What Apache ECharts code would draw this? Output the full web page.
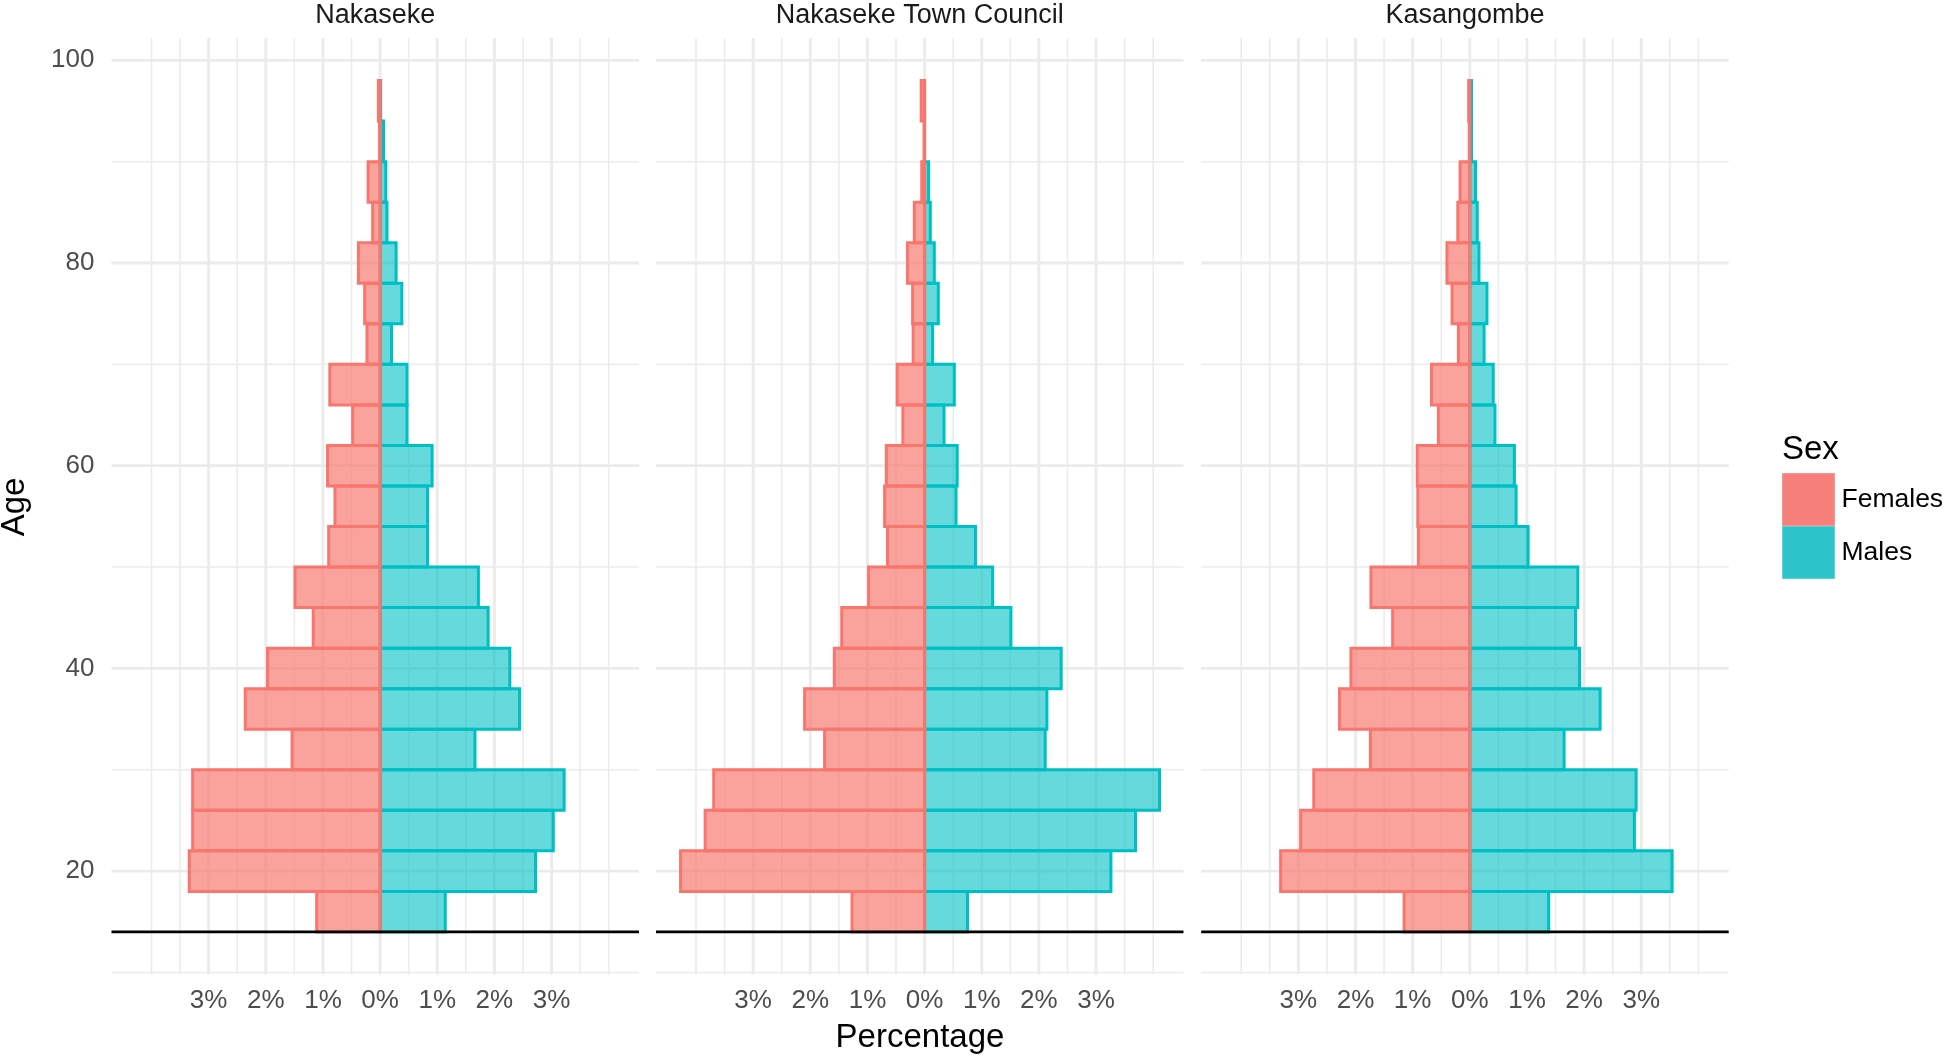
<!DOCTYPE html>
<html><head><meta charset="utf-8">
<script src="https://cdn.jsdelivr.net/npm/echarts@6/dist/echarts.min.js"></script>
<style>html,body{margin:0;padding:0;background:#fff}#c{width:1946px;height:1060px}</style>
</head><body><div id="c"></div>
<script>
// ---- data ----
const ageStarts = [14,18,22,26,30,34,38,42,46,50,54,58,62,66,70,74,78,82,86,90,94];
const binWidth = 4;
const panelNames = ['Nakaseke', 'Nakaseke Town Council', 'Kasangombe'];
// percentages (females shown on the left)
const femalesNakaseke = [1.11,3.34,3.28,3.28,1.54,2.36,1.97,1.17,1.49,0.90,0.79,0.92,0.48,0.88,0.23,0.27,0.38,0.13,0.21,0.01,0.03];
const malesNakaseke   = [1.14,2.72,3.03,3.22,1.66,2.44,2.27,1.89,1.72,0.83,0.83,0.91,0.47,0.47,0.20,0.38,0.28,0.12,0.10,0.06,0.01];
const femalesTownCouncil = [1.27,4.27,3.84,3.69,1.75,2.10,1.58,1.45,0.98,0.65,0.70,0.67,0.38,0.48,0.20,0.21,0.30,0.18,0.05,0.01,0.06];
const malesTownCouncil   = [0.75,3.26,3.69,4.11,2.11,2.14,2.39,1.51,1.19,0.89,0.55,0.57,0.34,0.52,0.14,0.24,0.17,0.10,0.07,0.00,0.00];
const femalesKasangombe = [1.15,3.31,2.96,2.73,1.74,2.28,2.08,1.35,1.73,0.90,0.91,0.92,0.55,0.67,0.20,0.31,0.40,0.21,0.17,0.01,0.02];
const malesKasangombe   = [1.38,3.54,2.88,2.91,1.65,2.28,1.92,1.85,1.89,1.02,0.81,0.78,0.44,0.41,0.25,0.30,0.16,0.13,0.10,0.03,0.03];
const femalesByPanel = [femalesNakaseke, femalesTownCouncil, femalesKasangombe];
const malesByPanel = [malesNakaseke, malesTownCouncil, malesKasangombe];
// ticks
const xMajorTicks = [-3,-2,-1,0,1,2,3];
const xMinorTicks = [-4,-3.5,-2.5,-1.5,-0.5,0.5,1.5,2.5,3.5,4];
const yMajorTicks = [20,40,60,80,100];
const yMinorTicks = [10,30,50,70,90];
const baselineAge = 14;
const xRange = [-4.70, 4.53];
const yRange = [9.8, 102.2];

// ---- styles ----
const FONT = 'Liberation Sans, Arial, Helvetica, sans-serif';
const femaleStroke = '#F8766D', maleStroke = '#00BFC4';
const femaleFill = 'rgba(248,118,109,0.68)', maleFill = 'rgba(0,191,196,0.6)';
const gridColor = '#EBEBEB';
const gridLefts = [111.5, 656, 1201.2];
const gridTop = 38, gridW = 527.5, gridH = 936.5;

const chart = echarts.init(document.getElementById('c'), null, {renderer: 'canvas'});

const grids = [], xAxes = [], yAxes = [], series = [], graphics = [];

// gridline items: [value, kind] kind: 0 vert minor,1 vert major,2 horiz minor,3 horiz major
const gridItems = []
  .concat(xMinorTicks.map(v => [v, 0]))
  .concat(xMajorTicks.map(v => [v, 1]))
  .concat(yMinorTicks.map(v => [v, 2]))
  .concat(yMajorTicks.map(v => [v, 3]));

function gridRender(params, api) {
  const v = api.value(0), kind = api.value(1);
  const cs = params.coordSys;
  const lw = (kind === 1 || kind === 3) ? 2.8 : 1.5;
  let shape;
  if (kind < 2) {
    const x = api.coord([v, 50])[0];
    shape = {x1: x, y1: cs.y, x2: x, y2: cs.y + cs.height};
  } else {
    const y = api.coord([0, v])[1];
    shape = {x1: cs.x, y1: y, x2: cs.x + cs.width, y2: y};
  }
  return {type: 'line', shape, style: {stroke: gridColor, lineWidth: lw}, silent: true};
}

function barRender(sign, stroke, fill) {
  return function (params, api) {
    const age = api.value(0), v = api.value(1);
    const p0 = api.coord([0, age]);
    const p1 = api.coord([sign * v, age + binWidth]);
    return {
      type: 'rect',
      shape: {x: Math.min(p0[0], p1[0]), y: Math.min(p0[1], p1[1]),
              width: Math.abs(p1[0] - p0[0]), height: Math.abs(p1[1] - p0[1])},
      style: {fill: fill, stroke: stroke, lineWidth: 3}
    };
  };
}

function baselineRender(params, api) {
  const cs = params.coordSys;
  const y = api.coord([0, api.value(1)])[1];
  return {type: 'line', shape: {x1: cs.x, y1: y, x2: cs.x + cs.width, y2: y},
          style: {stroke: '#000', lineWidth: 2.8}, silent: true};
}

panelNames.forEach((name, i) => {
  grids.push({left: gridLefts[i], top: gridTop, width: gridW, height: gridH,
              containLabel: false, outerBoundsMode: 'none'});
  xAxes.push({
    type: 'value', gridIndex: i, min: xRange[0], max: xRange[1],
    splitLine: {show: false}, axisLine: {show: false}, axisTick: {show: false},
    axisLabel: {customValues: xMajorTicks, formatter: v => Math.abs(v) + '%',
                color: '#4D4D4D', fontSize: 26, fontFamily: FONT, margin: 13}
  });
  yAxes.push({
    type: 'value', gridIndex: i, min: yRange[0], max: yRange[1],
    splitLine: {show: false}, axisLine: {show: false}, axisTick: {show: false},
    axisLabel: {show: i === 0, customValues: yMajorTicks, color: '#4D4D4D',
                fontSize: 26, fontFamily: FONT, margin: 17}
  });
  series.push({
    type: 'custom', xAxisIndex: i, yAxisIndex: i, z: 1, silent: true,
    data: gridItems, renderItem: gridRender, encode: {x: 0, y: 1}
  });
  series.push({
    type: 'custom', name: 'Males', xAxisIndex: i, yAxisIndex: i, z: 2,
    itemStyle: {color: '#2CC4C8'},
    data: ageStarts.map((a, k) => [a, malesByPanel[i][k]]),
    renderItem: barRender(1, maleStroke, maleFill), encode: {x: 1, y: 0}
  });
  series.push({
    type: 'custom', name: 'Females', xAxisIndex: i, yAxisIndex: i, z: 3,
    itemStyle: {color: '#F8807A'},
    data: ageStarts.map((a, k) => [a, femalesByPanel[i][k]]),
    renderItem: barRender(-1, femaleStroke, femaleFill), encode: {x: 1, y: 0}
  });
  series.push({
    type: 'custom', xAxisIndex: i, yAxisIndex: i, z: 4, silent: true,
    data: [[0, baselineAge]], renderItem: baselineRender, encode: {x: 0, y: 1}
  });
  graphics.push({
    type: 'text', x: gridLefts[i] + gridW / 2, y: 15.5,
    style: {text: name, font: '27px ' + FONT, fill: '#1A1A1A', align: 'center', verticalAlign: 'middle'}
  });
});

// axis titles
graphics.push({
  type: 'text', x: 920, y: 1038,
  style: {text: 'Percentage', font: '33px ' + FONT, fill: '#000', align: 'center', verticalAlign: 'middle'}
});
graphics.push({
  type: 'text', x: 15, y: 507, rotation: Math.PI / 2,
  style: {text: 'Age', font: '33px ' + FONT, fill: '#000', align: 'center', verticalAlign: 'middle'}
});
graphics.push({
  type: 'text', x: 1782, y: 450,
  style: {text: 'Sex', font: '33px ' + FONT, fill: '#000', align: 'left', verticalAlign: 'middle'}
});

chart.setOption({
  animation: false,
  backgroundColor: '#fff',
  grid: grids, xAxis: xAxes, yAxis: yAxes, series: series,
  graphic: graphics,
  legend: {
    orient: 'vertical', left: 1782, top: 473, padding: 0, itemGap: 0,
    itemWidth: 52, itemHeight: 52, icon: 'rect', selectedMode: false,
    textStyle: {fontSize: 26.5, color: '#000', fontFamily: FONT, padding: [0, 0, 0, 2]},
    data: [
      {name: 'Females', itemStyle: {color: '#F8807A', borderColor: '#F99590', borderWidth: 1}},
      {name: 'Males', itemStyle: {color: '#2CC4C8', borderColor: '#5CD3D6', borderWidth: 1}}
    ]
  }
});
</script></body></html>
